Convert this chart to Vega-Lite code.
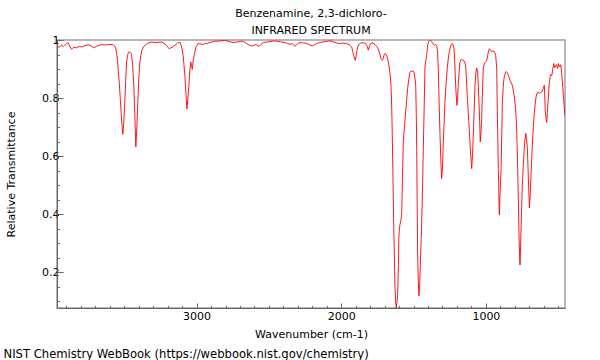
{
  "$schema": "https://vega.github.io/schema/vega-lite/v6.json",
  "autosize": "none",
  "width": 508,
  "height": 268,
  "padding": {"left": 57, "top": 40, "right": 35, "bottom": 52},
  "background": "white",
  "title": {
    "text": ["Benzenamine, 2,3-dichloro-", "INFRARED SPECTRUM"],
    "font": "DejaVu Sans",
    "fontSize": 11,
    "fontWeight": "normal",
    "color": "black",
    "lineHeight": 17,
    "anchor": "middle",
    "baseline": "bottom",
    "offset": 4,
    "dy": 17
  },
  "config": {
    "view": {"stroke": "#a0a0a0", "strokeWidth": 1.5},
    "axis": {
      "labelFont": "DejaVu Sans",
      "labelFontSize": 11,
      "labelColor": "black",
      "titleFont": "DejaVu Sans",
      "titleFontSize": 11,
      "titleFontWeight": "normal",
      "titleColor": "black",
      "domainColor": "#666666",
      "tickColor": "#666666",
      "grid": false
    }
  },
  "datasets": {
    "ir": [
      {"wn": 3961, "t": 0.976}, {"wn": 3950, "t": 0.975}, {"wn": 3935, "t": 0.982}, {"wn": 3920, "t": 0.978},
      {"wn": 3905, "t": 0.985}, {"wn": 3888, "t": 0.991}, {"wn": 3878, "t": 0.98}, {"wn": 3865, "t": 0.968},
      {"wn": 3850, "t": 0.975}, {"wn": 3830, "t": 0.973}, {"wn": 3810, "t": 0.978}, {"wn": 3795, "t": 0.976},
      {"wn": 3775, "t": 0.98}, {"wn": 3750, "t": 0.984}, {"wn": 3730, "t": 0.98}, {"wn": 3708, "t": 0.973},
      {"wn": 3690, "t": 0.979}, {"wn": 3670, "t": 0.982}, {"wn": 3657, "t": 0.984}, {"wn": 3630, "t": 0.983},
      {"wn": 3600, "t": 0.985}, {"wn": 3577, "t": 0.984}, {"wn": 3565, "t": 0.978}, {"wn": 3558, "t": 0.97},
      {"wn": 3550, "t": 0.945}, {"wn": 3542, "t": 0.9}, {"wn": 3534, "t": 0.85}, {"wn": 3526, "t": 0.787},
      {"wn": 3518, "t": 0.72}, {"wn": 3510, "t": 0.675}, {"wn": 3503, "t": 0.72}, {"wn": 3496, "t": 0.787},
      {"wn": 3490, "t": 0.86}, {"wn": 3484, "t": 0.924}, {"wn": 3476, "t": 0.95}, {"wn": 3468, "t": 0.959},
      {"wn": 3459, "t": 0.958}, {"wn": 3450, "t": 0.953}, {"wn": 3442, "t": 0.91}, {"wn": 3434, "t": 0.844},
      {"wn": 3427, "t": 0.74}, {"wn": 3420, "t": 0.632}, {"wn": 3413, "t": 0.7}, {"wn": 3406, "t": 0.787},
      {"wn": 3399, "t": 0.87}, {"wn": 3392, "t": 0.924}, {"wn": 3380, "t": 0.962}, {"wn": 3369, "t": 0.976},
      {"wn": 3340, "t": 0.988}, {"wn": 3311, "t": 0.993}, {"wn": 3280, "t": 0.991}, {"wn": 3242, "t": 0.993},
      {"wn": 3215, "t": 0.985}, {"wn": 3190, "t": 0.97}, {"wn": 3170, "t": 0.975}, {"wn": 3150, "t": 0.982},
      {"wn": 3130, "t": 0.99}, {"wn": 3116, "t": 0.993}, {"wn": 3105, "t": 0.98}, {"wn": 3093, "t": 0.947},
      {"wn": 3081, "t": 0.879}, {"wn": 3074, "t": 0.82}, {"wn": 3067, "t": 0.762}, {"wn": 3060, "t": 0.8},
      {"wn": 3053, "t": 0.844}, {"wn": 3046, "t": 0.9}, {"wn": 3040, "t": 0.924}, {"wn": 3035, "t": 0.91},
      {"wn": 3030, "t": 0.899}, {"wn": 3023, "t": 0.93}, {"wn": 3017, "t": 0.947}, {"wn": 3005, "t": 0.975},
      {"wn": 2989, "t": 0.988}, {"wn": 2960, "t": 0.985}, {"wn": 2931, "t": 0.988}, {"wn": 2896, "t": 0.993},
      {"wn": 2873, "t": 0.996}, {"wn": 2851, "t": 0.996}, {"wn": 2804, "t": 0.999}, {"wn": 2775, "t": 0.995},
      {"wn": 2747, "t": 0.991}, {"wn": 2720, "t": 0.993}, {"wn": 2689, "t": 0.996}, {"wn": 2670, "t": 0.993},
      {"wn": 2654, "t": 0.988}, {"wn": 2635, "t": 0.982}, {"wn": 2615, "t": 0.979}, {"wn": 2592, "t": 0.985},
      {"wn": 2569, "t": 0.978}, {"wn": 2555, "t": 0.985}, {"wn": 2539, "t": 0.991}, {"wn": 2500, "t": 0.994},
      {"wn": 2458, "t": 0.997}, {"wn": 2420, "t": 0.994}, {"wn": 2389, "t": 0.991}, {"wn": 2370, "t": 0.988},
      {"wn": 2355, "t": 0.985}, {"wn": 2339, "t": 0.988}, {"wn": 2320, "t": 0.978}, {"wn": 2300, "t": 0.988},
      {"wn": 2285, "t": 0.991}, {"wn": 2260, "t": 0.99}, {"wn": 2239, "t": 0.988}, {"wn": 2220, "t": 0.984},
      {"wn": 2200, "t": 0.979}, {"wn": 2180, "t": 0.985}, {"wn": 2159, "t": 0.99}, {"wn": 2120, "t": 0.994},
      {"wn": 2078, "t": 0.997}, {"wn": 2050, "t": 0.993}, {"wn": 2021, "t": 0.988}, {"wn": 1990, "t": 0.989},
      {"wn": 1963, "t": 0.988}, {"wn": 1940, "t": 0.982}, {"wn": 1928, "t": 0.976}, {"wn": 1920, "t": 0.96},
      {"wn": 1914, "t": 0.947}, {"wn": 1903, "t": 0.93}, {"wn": 1895, "t": 0.95}, {"wn": 1887, "t": 0.976},
      {"wn": 1875, "t": 0.986}, {"wn": 1859, "t": 0.991}, {"wn": 1845, "t": 0.99}, {"wn": 1831, "t": 0.988},
      {"wn": 1820, "t": 0.978}, {"wn": 1813, "t": 0.965}, {"wn": 1805, "t": 0.978}, {"wn": 1797, "t": 0.988},
      {"wn": 1785, "t": 0.99}, {"wn": 1767, "t": 0.985}, {"wn": 1755, "t": 0.978}, {"wn": 1744, "t": 0.97},
      {"wn": 1735, "t": 0.955}, {"wn": 1725, "t": 0.936}, {"wn": 1714, "t": 0.93}, {"wn": 1705, "t": 0.947},
      {"wn": 1698, "t": 0.953}, {"wn": 1690, "t": 0.95}, {"wn": 1682, "t": 0.941}, {"wn": 1670, "t": 0.913},
      {"wn": 1662, "t": 0.88}, {"wn": 1656, "t": 0.844}, {"wn": 1651, "t": 0.77}, {"wn": 1647, "t": 0.672},
      {"wn": 1642, "t": 0.52}, {"wn": 1638, "t": 0.385}, {"wn": 1633, "t": 0.26}, {"wn": 1629, "t": 0.156},
      {"wn": 1624, "t": 0.1}, {"wn": 1620, "t": 0.078}, {"wn": 1615, "t": 0.095}, {"wn": 1610, "t": 0.121},
      {"wn": 1605, "t": 0.22}, {"wn": 1601, "t": 0.328}, {"wn": 1597, "t": 0.352}, {"wn": 1594, "t": 0.365},
      {"wn": 1588, "t": 0.378}, {"wn": 1582, "t": 0.4}, {"wn": 1577, "t": 0.52}, {"wn": 1571, "t": 0.649},
      {"wn": 1563, "t": 0.7}, {"wn": 1555, "t": 0.752}, {"wn": 1548, "t": 0.79}, {"wn": 1541, "t": 0.833},
      {"wn": 1533, "t": 0.865}, {"wn": 1525, "t": 0.89}, {"wn": 1519, "t": 0.893}, {"wn": 1513, "t": 0.892},
      {"wn": 1505, "t": 0.893}, {"wn": 1497, "t": 0.89}, {"wn": 1491, "t": 0.87}, {"wn": 1485, "t": 0.844},
      {"wn": 1481, "t": 0.74}, {"wn": 1478, "t": 0.615}, {"wn": 1475, "t": 0.44}, {"wn": 1472, "t": 0.27},
      {"wn": 1467, "t": 0.17}, {"wn": 1463, "t": 0.119}, {"wn": 1458, "t": 0.15}, {"wn": 1454, "t": 0.213},
      {"wn": 1449, "t": 0.29}, {"wn": 1444, "t": 0.362}, {"wn": 1438, "t": 0.49}, {"wn": 1433, "t": 0.615},
      {"wn": 1427, "t": 0.76}, {"wn": 1421, "t": 0.907}, {"wn": 1415, "t": 0.93}, {"wn": 1409, "t": 0.947},
      {"wn": 1404, "t": 0.975}, {"wn": 1398, "t": 0.993}, {"wn": 1390, "t": 0.998}, {"wn": 1382, "t": 0.999},
      {"wn": 1376, "t": 0.995}, {"wn": 1370, "t": 0.991}, {"wn": 1363, "t": 0.985}, {"wn": 1357, "t": 0.982},
      {"wn": 1348, "t": 0.985}, {"wn": 1340, "t": 0.98}, {"wn": 1334, "t": 0.96}, {"wn": 1329, "t": 0.9},
      {"wn": 1323, "t": 0.78}, {"wn": 1317, "t": 0.672}, {"wn": 1311, "t": 0.58}, {"wn": 1306, "t": 0.522},
      {"wn": 1300, "t": 0.56}, {"wn": 1295, "t": 0.638}, {"wn": 1289, "t": 0.71}, {"wn": 1283, "t": 0.787},
      {"wn": 1275, "t": 0.85}, {"wn": 1267, "t": 0.902}, {"wn": 1258, "t": 0.945}, {"wn": 1248, "t": 0.97},
      {"wn": 1240, "t": 0.983}, {"wn": 1232, "t": 0.988}, {"wn": 1226, "t": 0.983}, {"wn": 1220, "t": 0.97},
      {"wn": 1215, "t": 0.92}, {"wn": 1209, "t": 0.844}, {"wn": 1204, "t": 0.8}, {"wn": 1200, "t": 0.775},
      {"wn": 1196, "t": 0.8}, {"wn": 1191, "t": 0.844}, {"wn": 1185, "t": 0.89}, {"wn": 1179, "t": 0.924},
      {"wn": 1173, "t": 0.932}, {"wn": 1167, "t": 0.933}, {"wn": 1158, "t": 0.93}, {"wn": 1149, "t": 0.927},
      {"wn": 1140, "t": 0.913}, {"wn": 1135, "t": 0.87}, {"wn": 1129, "t": 0.81}, {"wn": 1122, "t": 0.75},
      {"wn": 1115, "t": 0.695}, {"wn": 1107, "t": 0.62}, {"wn": 1098, "t": 0.557}, {"wn": 1092, "t": 0.61},
      {"wn": 1087, "t": 0.672}, {"wn": 1081, "t": 0.76}, {"wn": 1075, "t": 0.844}, {"wn": 1070, "t": 0.885},
      {"wn": 1064, "t": 0.904}, {"wn": 1057, "t": 0.89}, {"wn": 1052, "t": 0.84}, {"wn": 1048, "t": 0.787},
      {"wn": 1043, "t": 0.72}, {"wn": 1039, "t": 0.649}, {"wn": 1034, "t": 0.68}, {"wn": 1029, "t": 0.73},
      {"wn": 1024, "t": 0.82}, {"wn": 1018, "t": 0.902}, {"wn": 1012, "t": 0.915}, {"wn": 1006, "t": 0.922},
      {"wn": 1000, "t": 0.925}, {"wn": 994, "t": 0.93}, {"wn": 988, "t": 0.945}, {"wn": 983, "t": 0.959},
      {"wn": 976, "t": 0.97}, {"wn": 968, "t": 0.965}, {"wn": 960, "t": 0.959}, {"wn": 952, "t": 0.962},
      {"wn": 944, "t": 0.961}, {"wn": 937, "t": 0.955}, {"wn": 932, "t": 0.947}, {"wn": 925, "t": 0.902},
      {"wn": 923, "t": 0.82}, {"wn": 918, "t": 0.672}, {"wn": 914, "t": 0.557}, {"wn": 910, "t": 0.46},
      {"wn": 907, "t": 0.397}, {"wn": 901, "t": 0.48}, {"wn": 895, "t": 0.557}, {"wn": 890, "t": 0.68},
      {"wn": 886, "t": 0.787}, {"wn": 880, "t": 0.84}, {"wn": 875, "t": 0.867}, {"wn": 869, "t": 0.88},
      {"wn": 863, "t": 0.89}, {"wn": 857, "t": 0.891}, {"wn": 852, "t": 0.888}, {"wn": 842, "t": 0.875},
      {"wn": 833, "t": 0.861}, {"wn": 825, "t": 0.852}, {"wn": 817, "t": 0.844}, {"wn": 810, "t": 0.825},
      {"wn": 803, "t": 0.804}, {"wn": 796, "t": 0.77}, {"wn": 789, "t": 0.718}, {"wn": 784, "t": 0.64},
      {"wn": 780, "t": 0.557}, {"wn": 775, "t": 0.44}, {"wn": 771, "t": 0.328}, {"wn": 767, "t": 0.26},
      {"wn": 764, "t": 0.225}, {"wn": 760, "t": 0.29}, {"wn": 757, "t": 0.351}, {"wn": 752, "t": 0.43},
      {"wn": 748, "t": 0.5}, {"wn": 742, "t": 0.56}, {"wn": 736, "t": 0.615}, {"wn": 730, "t": 0.655},
      {"wn": 724, "t": 0.678}, {"wn": 719, "t": 0.66}, {"wn": 713, "t": 0.626}, {"wn": 706, "t": 0.52},
      {"wn": 699, "t": 0.422}, {"wn": 694, "t": 0.46}, {"wn": 690, "t": 0.511}, {"wn": 684, "t": 0.58},
      {"wn": 679, "t": 0.638}, {"wn": 672, "t": 0.7}, {"wn": 665, "t": 0.752}, {"wn": 659, "t": 0.78},
      {"wn": 653, "t": 0.804}, {"wn": 647, "t": 0.815}, {"wn": 642, "t": 0.821}, {"wn": 636, "t": 0.818},
      {"wn": 630, "t": 0.816}, {"wn": 622, "t": 0.82}, {"wn": 614, "t": 0.821}, {"wn": 608, "t": 0.828},
      {"wn": 603, "t": 0.833}, {"wn": 596, "t": 0.844}, {"wn": 592, "t": 0.79}, {"wn": 589, "t": 0.752},
      {"wn": 584, "t": 0.73}, {"wn": 579, "t": 0.716}, {"wn": 575, "t": 0.75}, {"wn": 570, "t": 0.787},
      {"wn": 566, "t": 0.82}, {"wn": 561, "t": 0.855}, {"wn": 556, "t": 0.872}, {"wn": 551, "t": 0.881},
      {"wn": 548, "t": 0.878}, {"wn": 544, "t": 0.879}, {"wn": 540, "t": 0.89}, {"wn": 537, "t": 0.902},
      {"wn": 533, "t": 0.912}, {"wn": 530, "t": 0.919}, {"wn": 526, "t": 0.905}, {"wn": 521, "t": 0.907},
      {"wn": 517, "t": 0.912}, {"wn": 512, "t": 0.915}, {"wn": 508, "t": 0.908}, {"wn": 505, "t": 0.902},
      {"wn": 501, "t": 0.91}, {"wn": 498, "t": 0.919}, {"wn": 494, "t": 0.91}, {"wn": 489, "t": 0.907},
      {"wn": 485, "t": 0.912}, {"wn": 482, "t": 0.915}, {"wn": 479, "t": 0.9}, {"wn": 475, "t": 0.879},
      {"wn": 469, "t": 0.84}, {"wn": 463, "t": 0.798}, {"wn": 458, "t": 0.77}, {"wn": 454, "t": 0.741}
    ]
  },
  "data": {"name": "ir"},
  "resolve": {"axis": {"x": "independent", "y": "independent"}},
  "layer": [
    {
      "mark": {"type": "line", "color": "#ff0000", "strokeWidth": 0.9, "clip": true},
      "encoding": {
        "x": {
          "field": "wn", "type": "quantitative",
          "scale": {"domain": [453, 3965], "reverse": true, "nice": false, "zero": false},
          "axis": {
            "orient": "bottom", "values": [1000, 2000, 3000], "format": "d",
            "tickSize": -5, "labelPadding": 7,
            "title": "Wavenumber (cm-1)", "titleX": 254, "titleY": 29, "titleBaseline": "alphabetic"
          }
        },
        "y": {
          "field": "t", "type": "quantitative",
          "scale": {"domain": [0.077, 1.0], "nice": false, "zero": false},
          "axis": {
            "orient": "left", "values": [0.2, 0.4, 0.6, 0.8, 1], "format": "~g",
            "tickSize": -6, "labelPadding": 4,
            "title": "Relative Transmittance", "titleX": -43, "titleY": 134, "titleBaseline": "alphabetic"
          }
        }
      }
    },
    {
      "mark": {"type": "line", "strokeOpacity": 0, "clip": true},
      "encoding": {
        "x": {
          "field": "wn", "type": "quantitative",
          "axis": {
            "orient": "bottom",
            "values": [500, 600, 700, 800, 900, 1100, 1200, 1300, 1400, 1500, 1600, 1700, 1800, 1900, 2100, 2200, 2300, 2400, 2500, 2600, 2700, 2800, 2900, 3100, 3200, 3300, 3400, 3500, 3600, 3700, 3800, 3900],
            "tickSize": -2.5, "labels": false, "domain": false,
            "title": "NIST Chemistry WebBook (https://webbook.nist.gov/chemistry)",
            "titleFontSize": 11.6,
            "titleX": -54, "titleY": 49, "titleAlign": "left", "titleAnchor": "start", "titleBaseline": "alphabetic"
          }
        },
        "y": {
          "field": "t", "type": "quantitative",
          "axis": {
            "orient": "left",
            "values": [0.1, 0.15, 0.25, 0.3, 0.35, 0.45, 0.5, 0.55, 0.65, 0.7, 0.75, 0.85, 0.9, 0.95],
            "tickSize": -2.5, "labels": false, "domain": false, "title": null
          }
        }
      }
    }
  ]
}
